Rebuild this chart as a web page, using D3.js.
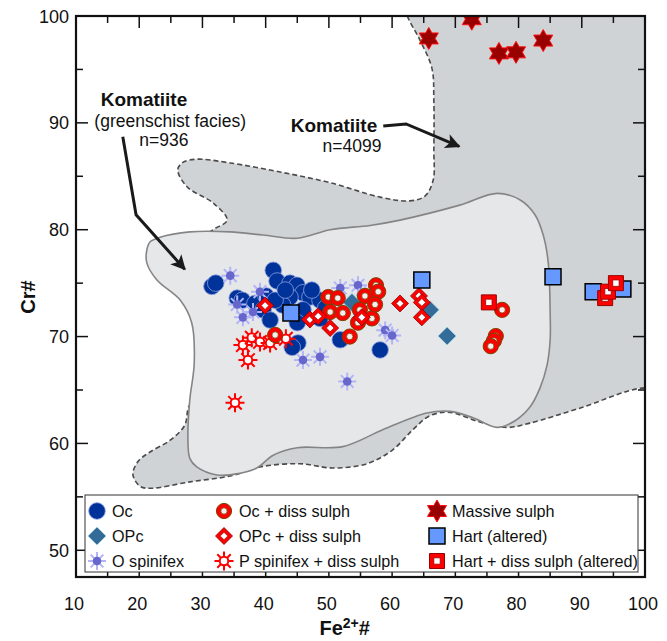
<!DOCTYPE html>
<html>
<head>
<meta charset="utf-8">
<script src="https://cdn.jsdelivr.net/npm/d3@7"></script>
<style>
  body { margin: 0; background: #fff; }
  svg text { font-family: "Liberation Sans", Arial, Helvetica, sans-serif; fill: #111; }
</style>
</head>
<body>
<div id="chart"></div>
<script>
// ---- data (Fe2+#, Cr#) ----
const xTicks = [10, 20, 30, 40, 50, 60, 70, 80, 90, 100];
const yTicks = [50, 60, 70, 80, 90, 100];

// Komatiite field n=4099 (dashed outline)
const fieldKomatiite = [
    [61.5, 102], [62.4, 100], [64.4, 97.75], [66.3, 95.1], [66.6, 92.1], [66.6, 87.5], [66.5, 84.65],
    [65.2, 83.15], [62.8, 82.7], [58.1, 83.05], [50.2, 84.4], [42.3, 85.4], [34.4, 86.25],
    [29.1, 86.6], [26.9, 86.3], [26.1, 85.6], [27.6, 84.0], [31.7, 82.5], [33.9, 80.9],
    [31.7, 80.0], [29.6, 79.0], [30.4, 73.4], [30.4, 64.1], [28.0, 63.6], [27.2, 61.7],
    [24.9, 60.3], [21.7, 59.2], [19.8, 58.3], [19.0, 57.1], [20.1, 56.0], [21.7, 55.8],
    [28.0, 56.4], [34.8, 57.0], [39.1, 57.8], [45.4, 58.1], [50.65, 57.7], [56.0, 58.1],
    [60.1, 59.4], [63.3, 61.3], [66.0, 62.6], [69.2, 62.9], [73.9, 62.0], [78.2, 61.5],
    [81.8, 61.9], [89.7, 63.3], [100, 65.2], [105, 64.5], [105, 102]
];

// Komatiite (greenschist facies) field n=936 (solid outline)
const fieldGreenschist = [
    [21.2, 78.1], [21.7, 78.85], [23.3, 79.3], [28.0, 79.8], [34.4, 79.8], [39.6, 79.5],
    [45.0, 79.2], [50.2, 80.0], [56.5, 80.4], [61.25, 80.9], [70.7, 82.3], [76.6, 83.4],
    [80.2, 82.8], [82.6, 81.4], [83.9, 79.5], [84.7, 76.9], [85.0, 72.2], [85.0, 69.7],
    [84.5, 67.3], [83.4, 65.2], [81.8, 63.4], [79.4, 62.1], [76.6, 61.5], [72.8, 62.4],
    [69.2, 63.0], [65.5, 62.85], [58.6, 61.3], [52.2, 59.7], [45.0, 59.6], [41.2, 58.9],
    [38.6, 57.7], [35.9, 57.2], [32.3, 57.05], [29.1, 57.8], [28.0, 58.6], [27.7, 60.6],
    [28.0, 64.1], [28.7, 67.5], [28.3, 71.3], [26.5, 73.4], [22.8, 75.3], [21.2, 76.9]
];

const ocData = [
    [31.5, 74.7], [32.1, 75.0], [41.2, 76.2], [41.8, 75.2], [43.85, 75.0], [44.95, 74.8],
    [45.9, 74.1], [47.0, 73.7], [43.85, 73.7], [42.7, 72.95], [45.9, 72.5], [48.6, 73.4],
    [48.6, 71.7], [45.0, 71.3], [45.1, 69.4], [44.2, 69.0], [51.8, 69.7], [58.1, 68.75],
    [35.5, 73.6], [36.3, 73.4], [38.3, 73.1], [39.6, 72.5], [40.05, 73.8], [41.5, 73.4],
    [43.1, 74.35], [47.3, 74.35], [49.5, 72.7], [40.7, 71.55]
];
const opcData = [[53.65, 73.2], [66.0, 72.5], [68.7, 70.05]];
const oSpinifexData = [
    [34.4, 75.7], [39.1, 74.2], [35.5, 73.0], [36.4, 71.8], [38.0, 72.3], [45.9, 67.8],
    [48.6, 68.1], [52.9, 65.8], [58.9, 70.6], [60.0, 70.1], [51.8, 74.55], [54.6, 74.8], [55.7, 73.9]
];
const ocSulphData = [
    [41.5, 70.15], [49.9, 73.7], [51.4, 73.6], [50.2, 72.3], [52.2, 72.2], [53.3, 70.0],
    [54.6, 71.3], [55.7, 73.8], [56.8, 71.7], [57.45, 74.8], [57.8, 74.2], [57.3, 73.0],
    [54.9, 72.5], [77.4, 72.5], [76.4, 70.05], [76.1, 69.6], [75.6, 69.1]
];
const opcSulphData = [
    [39.9, 72.9], [47.0, 71.6], [48.3, 71.9], [50.2, 70.8], [55.2, 71.8], [61.25, 73.1],
    [64.25, 73.8], [64.7, 73.2], [64.7, 71.8]
];
const pSpinifexSulphData = [
    [36.4, 69.2], [37.2, 67.8], [37.8, 69.9], [39.1, 69.5], [40.7, 69.4], [43.2, 69.8], [35.15, 63.8]
];
const massiveData = [[65.8, 97.9], [72.6, 99.7], [76.9, 96.5], [79.6, 96.6], [83.9, 97.7]];
const hartData = [[44.0, 72.2], [64.7, 75.3], [85.45, 75.6], [91.8, 74.2], [96.5, 74.45]];
const hartSulphData = [[75.3, 73.2], [93.7, 73.6], [94.15, 74.2], [95.4, 75.0]];

const legendLabels = [
    ["Oc", "OPc", "O spinifex"],
    ["Oc + diss sulph", "OPc + diss sulph", "P spinifex + diss sulph"],
    ["Massive sulph", "Hart (altered)", "Hart + diss sulph (altered)"]
];
const legendKeys = [
    ["oc", "opc", "ospin"],
    ["ocs", "opcs", "pspins"],
    ["mass", "hart", "harts"]
];

// annotation arrows (data units)
const arrowGreenschist = [[17.4, 88.7], [19.5, 81.4], [27.2, 76.3]];
const arrowKomatiite = [[58.6, 89.7], [62.2, 89.9], [70.6, 87.8]];

// ---- layout ----
const margin = {top: 16, right: 22, bottom: 64, left: 76};
const W = 667, H = 641;
const width = W - margin.left - margin.right;
const height = H - margin.top - margin.bottom;

const svg = d3.select("#chart").append("svg")
    .attr("width", W)
    .attr("height", H);

const defs = svg.append("defs");
defs.append("clipPath").attr("id", "plotClip")
    .append("rect").attr("width", width).attr("height", height);
defs.append("marker")
    .attr("id", "arrowHead")
    .attr("viewBox", "0 0 10 10")
    .attr("refX", 9).attr("refY", 5)
    .attr("markerWidth", 5.5).attr("markerHeight", 5)
    .attr("markerUnits", "strokeWidth")
    .attr("orient", "auto")
    .append("path")
    .attr("d", "M0,0 L10,5 L0,10 L2.5,5 Z")
    .attr("fill", "#1a1a1a");

const g = svg.append("g")
    .attr("transform", `translate(${margin.left},${margin.top})`);

const x = d3.scaleLinear().domain([10, 100]).range([0, width]);
const y = d3.scaleLinear().domain([47.5, 100]).range([height, 0]);

// ---- fields ----
const plot = g.append("g").attr("clip-path", "url(#plotClip)");

const area = d3.line()
    .x(d => x(d[0]))
    .y(d => y(d[1]))
    .curve(d3.curveCatmullRomClosed.alpha(0.5));

plot.append("path")
    .datum(fieldKomatiite)
    .attr("d", area)
    .attr("fill", "#d0d3d6")
    .attr("stroke", "#4a4a4a")
    .attr("stroke-width", 1.6)
    .attr("stroke-dasharray", "5,3");

plot.append("path")
    .datum(fieldGreenschist)
    .attr("d", area)
    .attr("fill", "#e6e7e8")
    .attr("stroke", "#858585")
    .attr("stroke-width", 1.6);

// ---- arrows ----
const arrowLine = d3.line().x(d => x(d[0])).y(d => y(d[1]));
[arrowGreenschist, arrowKomatiite].forEach(a => {
    g.append("path")
        .datum(a)
        .attr("d", arrowLine)
        .attr("fill", "none")
        .attr("stroke", "#1a1a1a")
        .attr("stroke-width", 3)
        .attr("marker-end", "url(#arrowHead)");
});

// ---- labels ----
g.append("text").attr("x", x(20.75)).attr("y", y(91.6)).attr("text-anchor", "middle")
    .style("font-size", "19px").style("font-weight", "bold").text("Komatiite");
g.append("text").attr("x", x(24.9)).attr("y", y(89.6)).attr("text-anchor", "middle")
    .style("font-size", "17.5px").text("(greenschist facies)");
g.append("text").attr("x", x(23.9)).attr("y", y(87.8)).attr("text-anchor", "middle")
    .style("font-size", "17.5px").text("n=936");
g.append("text").attr("x", x(50.8)).attr("y", y(89.15)).attr("text-anchor", "middle")
    .style("font-size", "19px").style("font-weight", "bold").text("Komatiite");
g.append("text").attr("x", x(53.65)).attr("y", y(87.3)).attr("text-anchor", "middle")
    .style("font-size", "17.5px").text("n=4099");

// ---- marker shapes ----
function diamondPath(r) { return `M0,${-r}L${r},0L0,${r}L${-r},0Z`; }
function squarePath(s) { return `M${-s},${-s}H${s}V${s}H${-s}Z`; }
function hexagramPath(R) {
    const r = R / Math.sqrt(3);
    let p = "";
    for (let i = 0; i < 12; i++) {
        const a = Math.PI / 6 * i - Math.PI / 2;
        const rr = i % 2 === 0 ? R : r;
        p += (i === 0 ? "M" : "L") + (rr * Math.cos(a)).toFixed(2) + "," + (rr * Math.sin(a)).toFixed(2);
    }
    return p + "Z";
}
function raysPath(r0, r1) {
    let p = "";
    for (let i = 0; i < 8; i++) {
        const a = Math.PI / 4 * i;
        p += `M${(r0 * Math.cos(a)).toFixed(2)},${(r0 * Math.sin(a)).toFixed(2)}L${(r1 * Math.cos(a)).toFixed(2)},${(r1 * Math.sin(a)).toFixed(2)}`;
    }
    return p;
}

const drawers = {
    oc: s => {
        s.append("circle").attr("r", 8.3).attr("fill", "#003399").attr("stroke", "#8b9de0").attr("stroke-width", 0.8);
    },
    opc: s => {
        s.append("path").attr("d", diamondPath(9)).attr("fill", "#336b99").attr("stroke", "#9fd3e3").attr("stroke-width", 0.8);
    },
    ospin: s => {
        s.append("path").attr("d", raysPath(0, 9)).attr("stroke", "#b3b5f7").attr("stroke-width", 2);
        s.append("circle").attr("r", 4.3).attr("fill", "#6666cc");
    },
    ocs: s => {
        s.append("circle").attr("r", 7.6).attr("fill", "#ff0000").attr("stroke", "#7a4400").attr("stroke-width", 1);
        s.append("circle").attr("r", 3.2).attr("fill", "#f4f0ee").attr("stroke", "#7a4400").attr("stroke-width", 0.8);
    },
    opcs: s => {
        s.append("path").attr("d", diamondPath(8.5)).attr("fill", "#ff0000").attr("stroke", "#8b0000").attr("stroke-width", 0.8);
        s.append("path").attr("d", diamondPath(3.8)).attr("fill", "#ffffff").attr("stroke", "#8b0000").attr("stroke-width", 0.6);
    },
    pspins: s => {
        s.append("path").attr("d", raysPath(4.5, 9.5)).attr("stroke", "#ff0000").attr("stroke-width", 2);
        s.append("circle").attr("r", 4.3).attr("fill", "#ffffff").attr("stroke", "#ff0000").attr("stroke-width", 2);
    },
    mass: s => {
        s.append("path").attr("d", hexagramPath(11)).attr("fill", "#990000").attr("stroke", "#ff1010").attr("stroke-width", 1);
    },
    hart: s => {
        s.append("path").attr("d", squarePath(8)).attr("fill", "#6699ff").attr("stroke", "#000").attr("stroke-width", 1.5);
    },
    harts: s => {
        s.append("path").attr("d", squarePath(7.5)).attr("fill", "#ff0000").attr("stroke", "#990000").attr("stroke-width", 1);
        s.append("path").attr("d", squarePath(3.2)).attr("fill", "#ffffff").attr("stroke", "#990000").attr("stroke-width", 0.8);
    }
};

const series = [
    ["oc", ocData], ["ospin", oSpinifexData], ["opc", opcData], ["pspins", pSpinifexSulphData],
    ["ocs", ocSulphData], ["opcs", opcSulphData], ["hart", hartData], ["harts", hartSulphData],
    ["mass", massiveData]
];

const pts = plot.append("g");
series.forEach(([key, data]) => {
    pts.selectAll(".pt-" + key)
        .data(data)
        .enter().append("g")
        .attr("class", "pt-" + key)
        .attr("transform", d => `translate(${x(d[0])},${y(d[1])})`)
        .each(function() { drawers[key](d3.select(this)); });
});

// ---- frame & ticks ----
g.append("rect")
    .attr("width", width).attr("height", height)
    .attr("fill", "none").attr("stroke", "#111").attr("stroke-width", 2.2);

const xMinor = d3.range(15, 100, 10);
const yMinor = d3.range(55, 100, 10);

const tickG = g.append("g").attr("stroke", "#111").attr("stroke-width", 1.5);
xTicks.concat(xMinor).forEach(v => {
    const len = xTicks.includes(v) ? 12 : 7;
    tickG.append("line").attr("x1", x(v)).attr("x2", x(v)).attr("y1", height).attr("y2", height - len);
    tickG.append("line").attr("x1", x(v)).attr("x2", x(v)).attr("y1", 0).attr("y2", len);
});
yTicks.concat(yMinor).forEach(v => {
    const len = yTicks.includes(v) ? 12 : 7;
    tickG.append("line").attr("y1", y(v)).attr("y2", y(v)).attr("x1", 0).attr("x2", len);
    tickG.append("line").attr("y1", y(v)).attr("y2", y(v)).attr("x1", width).attr("x2", width - len);
});

g.selectAll(".xlab").data(xTicks).enter().append("text")
    .attr("x", d => x(d) - 2).attr("y", height + 33)
    .attr("text-anchor", "middle").style("font-size", "18px").text(d => d);
g.selectAll(".ylab").data(yTicks).enter().append("text")
    .attr("x", -7).attr("y", d => y(d) + 6.5)
    .attr("text-anchor", "end").style("font-size", "18px").text(d => d);

// axis titles
const xt = g.append("text").attr("x", x(52.5)).attr("y", height + 58)
    .attr("text-anchor", "middle").style("font-size", "20px").style("font-weight", "bold");
xt.append("tspan").text("Fe");
xt.append("tspan").attr("dy", -7).style("font-size", "14px").text("2+");
xt.append("tspan").attr("dy", 7).text("#");

g.append("text")
    .attr("transform", `translate(${-41},${y(73.7)}) rotate(-90)`)
    .attr("text-anchor", "middle").style("font-size", "20px").style("font-weight", "bold")
    .text("Cr#");

// ---- legend ----
const legend = g.append("g").attr("transform", `translate(${85 - margin.left},${495 - margin.top})`);
legend.append("rect").attr("width", 553).attr("height", 77)
    .attr("fill", "#fff").attr("stroke", "#333").attr("stroke-width", 1);
const colX = [12, 139, 352];
legendLabels.forEach((col, ci) => {
    col.forEach((lab, ri) => {
        const item = legend.append("g").attr("transform", `translate(${colX[ci]},${16 + ri * 25})`);
        item.append("g").call(s => drawers[legendKeys[ci][ri]](s));
        item.append("text").attr("x", 15).attr("y", 6).style("font-size", "16.2px").text(lab);
    });
});
</script>
</body>
</html>
